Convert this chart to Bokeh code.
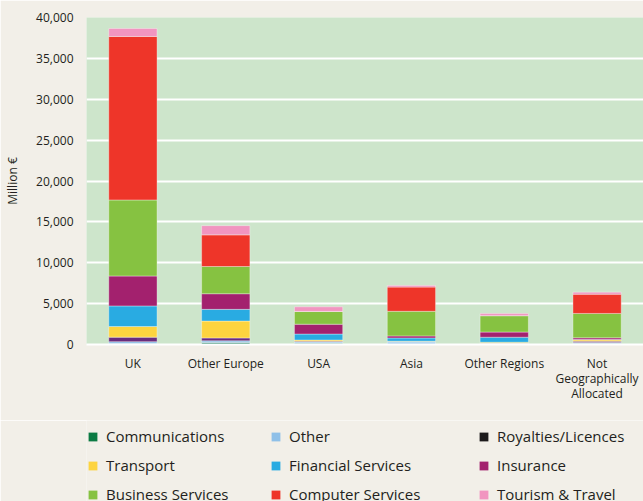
from bokeh.plotting import figure
from bokeh.layouts import column
from bokeh.models import Legend, LegendItem, NumeralTickFormatter, FixedTicker, Range1d
from bokeh.embed import file_html
from bokeh.resources import INLINE

regions = ["UK", "Other Europe", "USA", "Asia", "Other Regions", "Not\nGeographically\nAllocated"]
series = ["Communications", "Other", "Royalties/Licences", "Transport", "Financial Services",
          "Insurance", "Business Services", "Computer Services", "Tourism & Travel"]
bar_colors = ["#1a7f5a", "#8fc0e8", "#6a2c7e", "#fdd43f", "#29abe2",
              "#a3216e", "#86c241", "#ee3529", "#f195c0"]
legend_colors = ["#0b7a43", "#8fc0e8", "#1c1a1b", "#fdd43f", "#29abe2",
                 "#a3216e", "#86c241", "#ee3529", "#f195c0"]

communications = [100, 250, 150, 50, 30, 120]
other = [250, 200, 150, 250, 100, 120]
royalties = [550, 350, 100, 50, 30, 160]
transport = [1300, 2070, 150, 50, 120, 170]
financial = [2520, 1430, 730, 400, 610, 50]
insurance = [3660, 1910, 1200, 250, 630, 200]
business = [9300, 3330, 1570, 3010, 2010, 2980]
computer = [20000, 3870, 0, 2960, 0, 2350]
tourism = [975, 1130, 560, 200, 250, 250]

y_ticks = [0, 5000, 10000, 15000, 20000, 25000, 30000, 35000, 40000]

data = {"region": regions}
keys = ["communications", "other", "royalties", "transport", "financial",
        "insurance", "business", "computer", "tourism"]
for k, v in zip(keys, [communications, other, royalties, transport, financial,
                       insurance, business, computer, tourism]):
    data[k] = v

FONT = "Open Sans"
TXT = "#231f20"
PAGE = "#f2efe8"

p = figure(x_range=regions, y_range=Range1d(0, 40000), width=643, height=420,
           output_backend="svg", toolbar_location=None,
           min_border_left=86, min_border_right=0, min_border_top=17,
           min_border_bottom=76)
p.background_fill_color = "#cde5cb"
p.border_fill_color = PAGE
p.outline_line_color = None

renderers = p.vbar_stack(keys, x="region", width=0.52, source=data, color=bar_colors,
                         line_color="white", line_alpha=0.35, line_width=1)

p.xgrid.grid_line_color = None
p.ygrid.grid_line_color = "white"
p.ygrid.grid_line_width = 2
p.yaxis.ticker = FixedTicker(ticks=y_ticks)
p.yaxis.formatter = NumeralTickFormatter(format="0,0")
p.yaxis.axis_line_color = None
p.yaxis.major_tick_line_color = None
p.yaxis.major_tick_out = 0
p.yaxis.major_tick_in = 0
p.yaxis.minor_tick_line_color = None
p.yaxis.minor_tick_out = 0
p.yaxis.major_label_text_font = FONT
p.yaxis.major_label_text_font_size = "12px"
p.yaxis.major_label_text_color = TXT
p.yaxis.major_label_standoff = 13
p.yaxis.axis_label = "Million €"
p.yaxis.axis_label_text_font = FONT
p.yaxis.axis_label_text_font_style = "normal"
p.yaxis.axis_label_text_font_size = "12px"
p.yaxis.axis_label_text_color = TXT
p.yaxis.axis_label_standoff = 12

p.xaxis.axis_line_color = "white"
p.xaxis.axis_line_width = 2
p.xaxis.major_tick_line_color = None
p.xaxis.major_tick_out = 0
p.xaxis.major_tick_in = 0
p.xaxis.minor_tick_line_color = None
p.xaxis.major_label_text_font = FONT
p.xaxis.major_label_text_font_size = "12px"
p.xaxis.major_label_text_color = TXT
p.xaxis.major_label_text_line_height = 0.9
p.xaxis.major_label_standoff = 10

# legend strip below the chart (its zero-width bars fall outside its own visible range)
lp = figure(x_range=regions, y_range=Range1d(-200000, -100000), width=643, height=81,
            output_backend="svg", toolbar_location=None,
            x_axis_location=None, y_axis_location=None,
            min_border_left=86, min_border_right=0, min_border_top=0, min_border_bottom=0)
lp.background_fill_color = PAGE
lp.border_fill_color = PAGE
lp.outline_line_color = None
lp.grid.grid_line_color = None
swatches = lp.vbar_stack(keys, x="region", width=0.0, source=data, color=legend_colors,
                         line_color=None)

col_x = [1, 184, 392]
for c in range(3):
    idx = [c, c + 3, c + 6]
    items = [LegendItem(label=series[i], renderers=[swatches[i]]) for i in idx]
    lg = Legend(items=items, orientation="vertical", location=(col_x[c], -3),
                label_text_font=FONT, label_text_font_size="15px", label_text_color=TXT,
                glyph_width=11, glyph_height=11, spacing=9, label_standoff=8,
                label_height=20, background_fill_alpha=0, border_line_color=None,
                padding=0, margin=0)
    lp.add_layout(lg, "center")

layout = column(p, lp, spacing=0)
html = file_html(layout, INLINE)
html = html.replace("<body>", '<body style="background:%s">' % PAGE, 1)
open("out.html", "w").write(html)
